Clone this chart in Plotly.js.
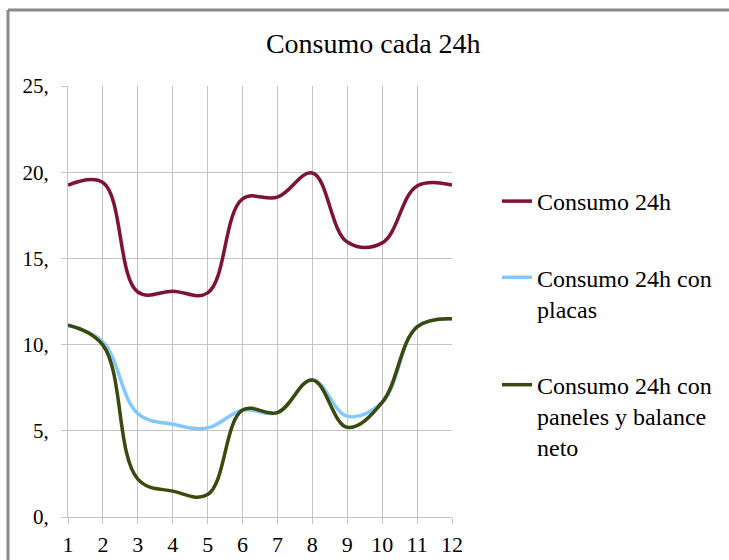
<!DOCTYPE html>
<html>
<head>
<meta charset="utf-8">
<script src="https://cdn.plot.ly/plotly-3.0.1.min.js"></script>
</head>
<body style="margin:0;background:#fff">
<div id="chart" style="width:729px;height:560px"></div>
<script>
// Data
const months = [1, 2, 3, 4, 5, 6, 7, 8, 9, 10, 11, 12];
const consumo24h = [19.25, 19.4, 13.05, 13.1, 13.0, 18.45, 18.55, 19.95, 15.95, 15.9, 19.2, 19.25];
const consumoPlacas = [11.13, 10.15, 6.0, 5.38, 5.17, 6.2, 6.06, 7.95, 5.85, 6.65, 11.03, 11.5];
const consumoBalance = [11.13, 9.97, 2.2, 1.5, 1.3, 6.2, 6.06, 7.95, 5.2, 6.65, 11.03, 11.5];
const seriesNames = ["Consumo 24h", "Consumo 24h con<br>placas", "Consumo 24h con<br>paneles y balance<br>neto"];
const yTickVals = [0, 5, 10, 15, 20, 25];
const yTickText = ["0,", "5,", "10,", "15,", "20,", "25,"];
const chartTitle = "Consumo cada 24h";

const FAM = "Times New Roman";
const colors = ["#7f1235", "#80c8ff", "#3a4a0c"];
const ys = [consumo24h, consumoPlacas, consumoBalance];

const traces = ys.map((y, i) => ({
  x: months, y: y, name: seriesNames[i], type: "scatter", mode: "lines",
  line: {color: colors[i], width: 3.5, shape: "spline", smoothing: 1.1},
  legendgroup: "g" + i
}));

const layout = {
  width: 729, height: 560,
  margin: {l: 68, r: 277, t: 86, b: 43},
  paper_bgcolor: "#fff", plot_bgcolor: "#fff",
  title: {text: chartTitle, font: {family: FAM, size: 28, color: "#000"},
          x: 0.512, xref: "container", xanchor: "center",
          y: 1 - 43/560, yref: "container", yanchor: "middle"},
  xaxis: {range: [1, 12], tickvals: months, ticktext: months.map(String),
          showgrid: true, gridcolor: "#c4c4c4", gridwidth: 1,
          ticks: "outside", ticklen: 6, tickcolor: "#c4c4c4",
          showline: true, linecolor: "#c4c4c4", zeroline: false,
          tickfont: {family: FAM, size: 22, color: "#000"}, ticklabelstandoff: 2, fixedrange: true},
  yaxis: {range: [0, 25], tickvals: yTickVals, ticktext: yTickText,
          showgrid: true, gridcolor: "#c4c4c4", gridwidth: 1,
          ticks: "outside", ticklen: 6, tickcolor: "#c4c4c4",
          showline: true, linecolor: "#c4c4c4", zeroline: false,
          tickfont: {family: FAM, size: 21, color: "#000"}, ticklabelstandoff: 8, fixedrange: true},
  legend: {x: (497 - 68) / 384, xanchor: "left", y: (517 - 179) / 431, yanchor: "top",
           font: {family: FAM, size: 24, color: "#000"}, valign: "top",
           tracegroupgap: 42, bgcolor: "rgba(0,0,0,0)"},
  showlegend: true,
  shapes: [
    {type: "line", xref: "paper", yref: "paper", x0: (8 - 68) / 384, x1: (729 - 68) / 384,
     y0: (517 - 10) / 431, y1: (517 - 10) / 431, line: {color: "#8a8a8a", width: 3}},
    {type: "line", xref: "paper", yref: "paper", x0: (8 - 68) / 384, x1: (8 - 68) / 384,
     y0: (517 - 10) / 431, y1: (517 - 562) / 431, line: {color: "#8a8a8a", width: 3}}
  ]
};

Plotly.newPlot("chart", traces, layout, {displayModeBar: false, staticPlot: true});
</script>
</body>
</html>
